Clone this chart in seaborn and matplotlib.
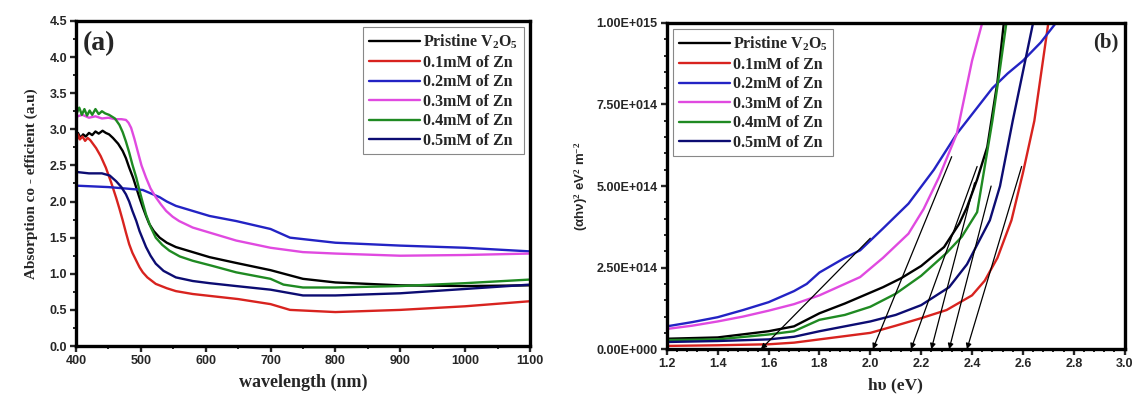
import numpy as np
import pandas as pd
import matplotlib
matplotlib.use("Agg")
import matplotlib.pyplot as plt
from matplotlib.ticker import MultipleLocator, FuncFormatter
from matplotlib.lines import Line2D
import seaborn as sns

# ---------------- data: panel (a) absorption vs wavelength ----------------
series_names = ["Pristine V$_{2}$O$_{5}$", "0.1mM of Zn", "0.2mM of Zn",
                "0.3mM of Zn", "0.4mM of Zn", "0.5mM of Zn"]
colors = ["#000000", "#d8231f", "#2323c4", "#e04ae0", "#1f8a22", "#0c0c72"]

wl_pristine = [400, 403, 407, 411, 415, 420, 425, 430, 435, 441, 446, 451, 457, 465, 472, 477, 482, 488, 493, 498, 503, 508, 513, 520, 529, 540, 554, 580, 606, 647, 700, 750, 800, 900, 1000, 1100]
ab_pristine = [2.90, 2.95, 2.88, 2.93, 2.90, 2.95, 2.92, 2.97, 2.94, 2.98, 2.95, 2.93, 2.88, 2.80, 2.70, 2.60, 2.47, 2.33, 2.19, 2.05, 1.92, 1.80, 1.69, 1.59, 1.50, 1.43, 1.37, 1.30, 1.23, 1.15, 1.05, 0.93, 0.88, 0.84, 0.83, 0.84]

wl_01 = [400, 401, 403, 406, 410, 414, 418, 422, 431, 438, 446, 454, 462, 467, 472, 477, 482, 487, 493, 498, 503, 510, 523, 540, 554, 580, 600, 650, 700, 730, 800, 900, 1000, 1100]
ab_01 = [2.95, 2.83, 2.93, 2.86, 2.90, 2.84, 2.88, 2.85, 2.74, 2.63, 2.47, 2.27, 2.05, 1.90, 1.74, 1.57, 1.41, 1.29, 1.18, 1.09, 1.02, 0.95, 0.86, 0.80, 0.76, 0.72, 0.70, 0.65, 0.58, 0.50, 0.47, 0.50, 0.55, 0.62]

wl_02 = [400, 450, 477, 503, 516, 529, 540, 554, 580, 606, 647, 700, 730, 800, 900, 1000, 1100]
ab_02 = [2.22, 2.20, 2.18, 2.16, 2.11, 2.06, 2.00, 1.94, 1.87, 1.80, 1.73, 1.62, 1.50, 1.43, 1.39, 1.36, 1.31]

wl_03 = [400, 402, 410, 420, 430, 440, 450, 460, 470, 477, 481, 485, 490, 495, 501, 508, 515, 523, 531, 539, 549, 559, 580, 606, 647, 700, 750, 800, 900, 1000, 1100]
ab_03 = [3.10, 3.18, 3.20, 3.16, 3.18, 3.15, 3.16, 3.14, 3.14, 3.13, 3.09, 3.02, 2.87, 2.70, 2.50, 2.33, 2.18, 2.06, 1.96, 1.87, 1.79, 1.73, 1.64, 1.57, 1.46, 1.36, 1.30, 1.28, 1.25, 1.26, 1.28]

wl_04 = [400, 401, 405, 409, 413, 417, 421, 425, 430, 435, 440, 445, 451, 460, 467, 472, 477, 482, 487, 493, 498, 503, 508, 515, 523, 533, 544, 560, 580, 610, 647, 700, 720, 750, 800, 900, 1000, 1100]
ab_04 = [4.05, 3.22, 3.30, 3.20, 3.28, 3.19, 3.26, 3.20, 3.28, 3.21, 3.25, 3.22, 3.20, 3.15, 3.06, 2.96, 2.83, 2.68, 2.51, 2.33, 2.15, 1.98, 1.82, 1.65, 1.50, 1.40, 1.32, 1.24, 1.18, 1.11, 1.02, 0.93, 0.85, 0.81, 0.81, 0.83, 0.87, 0.92]

wl_05 = [400, 420, 440, 452, 462, 470, 477, 482, 487, 493, 498, 503, 508, 515, 523, 535, 554, 580, 606, 647, 700, 750, 800, 900, 1000, 1100]
ab_05 = [2.41, 2.39, 2.39, 2.36, 2.28, 2.20, 2.10, 2.00, 1.87, 1.73, 1.59, 1.48, 1.37, 1.25, 1.14, 1.04, 0.95, 0.90, 0.87, 0.83, 0.78, 0.70, 0.70, 0.73, 0.79, 0.85]

# ---------------- data: panel (b) Tauc plot ----------------
SCALE = 1e14
ev_pristine = [1.2, 1.4, 1.6, 1.7, 1.8, 1.9, 1.96, 2.05, 2.12, 2.2, 2.29, 2.35, 2.38, 2.42, 2.46, 2.5, 2.525]
tv_pristine = [0.32, 0.36, 0.55, 0.70, 1.10, 1.40, 1.60, 1.90, 2.17, 2.55, 3.13, 3.85, 4.35, 5.20, 6.20, 8.20, 10.0]

ev_01 = [1.2, 1.4, 1.6, 1.7, 1.8, 1.9, 2.0, 2.1, 2.2, 2.3, 2.4, 2.45, 2.5, 2.555, 2.6, 2.645, 2.7]
tv_01 = [0.10, 0.12, 0.15, 0.20, 0.30, 0.40, 0.50, 0.72, 0.95, 1.20, 1.65, 2.10, 2.80, 3.95, 5.40, 7.00, 10.0]

ev_02 = [1.2, 1.3, 1.4, 1.5, 1.6, 1.7, 1.75, 1.8, 1.9, 1.96, 2.05, 2.15, 2.25, 2.34, 2.41, 2.48, 2.54, 2.6, 2.67, 2.73]
tv_02 = [0.70, 0.83, 0.98, 1.20, 1.44, 1.78, 2.00, 2.35, 2.80, 3.03, 3.70, 4.46, 5.50, 6.60, 7.30, 8.00, 8.45, 8.84, 9.40, 10.0]

ev_03 = [1.2, 1.3, 1.4, 1.5, 1.6, 1.7, 1.8, 1.9, 1.96, 2.05, 2.15, 2.21, 2.27, 2.34, 2.40, 2.44]
tv_03 = [0.62, 0.72, 0.85, 1.00, 1.18, 1.38, 1.65, 2.00, 2.21, 2.80, 3.54, 4.30, 5.27, 6.60, 8.84, 10.0]

ev_04 = [1.2, 1.4, 1.6, 1.7, 1.8, 1.9, 2.0, 2.1, 2.2, 2.3, 2.36, 2.42, 2.48, 2.51, 2.535]
tv_04 = [0.28, 0.30, 0.45, 0.55, 0.90, 1.05, 1.30, 1.70, 2.25, 2.95, 3.45, 4.20, 7.00, 8.60, 10.0]

ev_05 = [1.2, 1.4, 1.6, 1.7, 1.8, 1.9, 2.0, 2.1, 2.2, 2.31, 2.38, 2.42, 2.47, 2.51, 2.56, 2.6, 2.64]
tv_05 = [0.22, 0.25, 0.30, 0.38, 0.55, 0.70, 0.85, 1.05, 1.35, 1.90, 2.60, 3.20, 3.95, 5.00, 7.00, 8.50, 10.0]

# tangent (band-gap extrapolation) lines: start on curve -> intercept on x-axis
tan_x0 = [2.00, 2.32, 2.42, 2.41, 2.475, 2.595]
tan_y0 = [3.40, 5.90, 5.60, 5.10, 5.00, 5.60]
tan_gap = [1.57, 2.01, 2.16, 2.24, 2.31, 2.38]

# ---------------- build frames ----------------
wl_all = [wl_pristine, wl_01, wl_02, wl_03, wl_04, wl_05]
ab_all = [ab_pristine, ab_01, ab_02, ab_03, ab_04, ab_05]
ev_all = [ev_pristine, ev_01, ev_02, ev_03, ev_04, ev_05]
tv_all = [tv_pristine, tv_01, tv_02, tv_03, tv_04, tv_05]

df_a = pd.concat([pd.DataFrame({"wl": w, "ab": a, "s": n})
                  for w, a, n in zip(wl_all, ab_all, series_names)], ignore_index=True)
df_b = pd.concat([pd.DataFrame({"ev": e, "tv": np.array(t) * SCALE, "s": n})
                  for e, t, n in zip(ev_all, tv_all, series_names)], ignore_index=True)

sns.set_style("white")
plt.rcParams["font.family"] = ["Liberation Sans", "DejaVu Sans"]
plt.rcParams["mathtext.fontset"] = "custom"
plt.rcParams["mathtext.rm"] = "Liberation Serif:bold"
plt.rcParams["mathtext.it"] = "Liberation Serif:bold:italic"
plt.rcParams["mathtext.bf"] = "Liberation Serif:bold"
plt.rcParams["lines.solid_joinstyle"] = "round"

fig = plt.figure(figsize=(11.36, 3.95), dpi=100)
ax1 = fig.add_axes([0.0669, 0.124, 0.3996, 0.823])
ax2 = fig.add_axes([0.587, 0.116, 0.403, 0.826])

palette = dict(zip(series_names, colors))
sns.lineplot(data=df_a, x="wl", y="ab", hue="s", palette=palette, sort=False,
             estimator=None, ax=ax1, linewidth=1.7, legend=False)
sns.lineplot(data=df_b, x="ev", y="tv", hue="s", palette=palette, sort=False,
             estimator=None, ax=ax2, linewidth=1.7, legend=False)

for x0, y0, g in zip(tan_x0, tan_y0, tan_gap):
    ax2.annotate("", xy=(g, 0), xytext=(x0, y0 * SCALE),
                 arrowprops=dict(arrowstyle="-|>", color="black", lw=0.9,
                                 mutation_scale=8, shrinkA=0, shrinkB=0))

serif_bold = dict(family="Liberation Serif", weight="bold")

for ax in (ax1, ax2):
    for sp in ax.spines.values():
        sp.set_linewidth(2.4)
        sp.set_color("black")
        sp.set_visible(True)
    ax.tick_params(which="major", direction="out", length=4, width=1.7,
                   labelsize=9, pad=2.5, left=True, bottom=True, top=False, right=False)
    ax.tick_params(which="minor", direction="out", length=2.5, width=1.4,
                   left=True, bottom=True, top=False, right=False)

# panel (a)
ax1.set_xlim(400, 1100)
ax1.set_ylim(0, 4.5)
ax1.xaxis.set_major_locator(MultipleLocator(100))
ax1.xaxis.set_minor_locator(MultipleLocator(50))
ax1.yaxis.set_major_locator(MultipleLocator(0.5))
ax1.yaxis.set_minor_locator(MultipleLocator(0.25))
ax1.yaxis.set_major_formatter(FuncFormatter(lambda v, p: f"{v:.1f}"))
ax1.set_xlabel("wavelength (nm)", fontsize=13, labelpad=5, **serif_bold)
ax1.set_ylabel("Absorption co - efficient (a.u)", fontsize=11, labelpad=8, **serif_bold)
ax1.text(0.015, 0.93, "(a)", transform=ax1.transAxes, fontsize=20, va="center",
         ha="left", **serif_bold)

# panel (b)
def sci(v, p):
    if v == 0:
        return "0.00E+000"
    e = int(np.floor(np.log10(abs(v))))
    m = v / 10 ** e
    return f"{m:.2f}E+{e:03d}"

ax2.set_xlim(1.2, 3.0)
ax2.set_ylim(0, 1e15)
ax2.xaxis.set_major_locator(MultipleLocator(0.2))
ax2.xaxis.set_minor_locator(MultipleLocator(0.04))
ax2.xaxis.set_major_formatter(FuncFormatter(lambda v, p: f"{v:.1f}"))
ax2.yaxis.set_major_locator(MultipleLocator(2.5e14))
ax2.yaxis.set_minor_locator(MultipleLocator(0.5e14))
ax2.yaxis.set_major_formatter(FuncFormatter(sci))
ax2.set_xlabel("h\u03c5 (eV)", fontsize=12.5, labelpad=5, **serif_bold)
ax2.set_ylabel("(\u03b1h\u03bd)$^{2}$ eV$^{2}$ m$^{-2}$", fontsize=9.5, labelpad=5,
               family=["Liberation Sans", "DejaVu Sans"], weight="bold")
ax2.text(0.987, 0.94, "(b)", transform=ax2.transAxes, fontsize=15, va="center",
         ha="right", **serif_bold)

for ax in (ax1, ax2):
    for lab in ax.get_xticklabels() + ax.get_yticklabels():
        lab.set_fontweight("bold")

handles = [Line2D([], [], color=c, lw=1.7) for c in colors]
leg_kw = dict(prop=dict(family="Liberation Serif", weight="bold", size=11.5),
              frameon=True, fancybox=False, edgecolor="#888888", framealpha=1,
              handlelength=3.2, handletextpad=0.2, labelspacing=0.22,
              borderpad=0.35, borderaxespad=0.4)
l1 = ax1.legend(handles, series_names, loc="upper right", **leg_kw)
l2 = ax2.legend(handles, series_names, loc="upper left", **leg_kw)
for l in (l1, l2):
    l.get_frame().set_linewidth(0.8)

fig.savefig("out.png", dpi=100)
